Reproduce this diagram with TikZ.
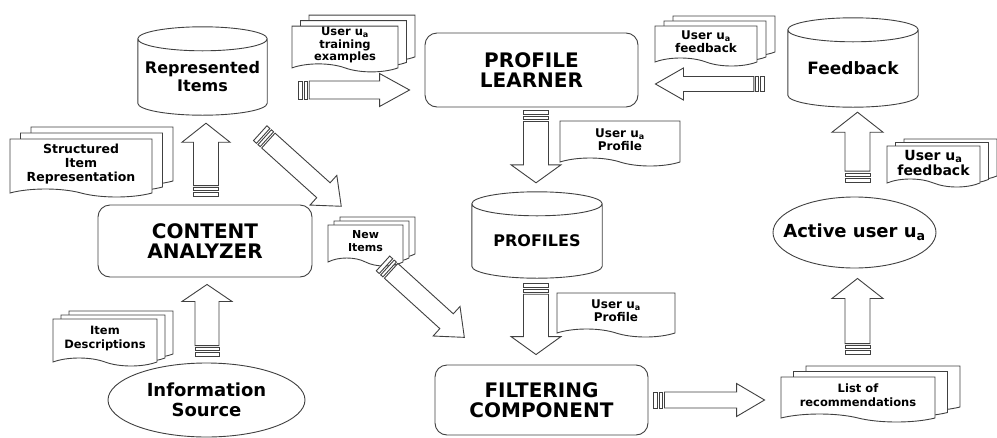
\documentclass[tikz,border=0pt]{standalone}
\usepackage{fontspec}
\setmainfont{DejaVu Sans}
\usetikzlibrary{positioning,calc,shapes.geometric,shapes.symbols,shadows}

% block arrow with striped tail: tail, head, half shaft, half head, head length
\newcommand{\bigarrow}[5]{%
  \path let \p1=(#1), \p2=(#2) in
    \pgfextra{%
      \pgfmathparse{atan2((\y2)-(\y1),(\x2)-(\x1))}\xdef\arrang{\pgfmathresult}%
      \pgfmathparse{veclen((\x2)-(\x1),(\y2)-(\y1))}\xdef\arrlen{\pgfmathresult}%
      \xdef\arrpos{\x1,\y1}};
  \begin{scope}[shift={(\arrpos)}, rotate=\arrang, x=1pt, y=1pt]
    \draw[bigarrow] (11,-#3) -- ({\arrlen-#5},-#3) -- ({\arrlen-#5},-#4) -- (\arrlen,0)
      -- ({\arrlen-#5},#4) -- ({\arrlen-#5},#3) -- (11,#3) -- cycle;
    \draw[bigarrow] (0,-#3) rectangle (4,#3);
    \draw[bigarrow] (6,-#3) rectangle (9,#3);
  \end{scope}
}

% cylinder outline round a text node
\newcommand{\cylinder}[1]{%
  \draw[outline] let \p1=(#1.north west), \p2=(#1.south east), \n1={((\x2)-(\x1))/2} in
    ({\x1+\n1},\y1) ellipse [x radius=\n1, y radius=12pt]
    (\x1,\y1) -- (\x1,{\y2+12pt}) arc [start angle=180, end angle=360, x radius=\n1, y radius=12pt]
    -- (\x2,\y1);
}

\tikzset{
  outline/.style={draw=black!75, line width=0.9pt},
  bigarrow/.style={outline, fill=white, line join=miter},
  box/.style={outline, rounded corners=12pt, align=center, inner sep=0pt,
    font=\bfseries\fontsize{20}{20}\selectfont},
  db/.style={align=center, inner sep=0pt, font=\bfseries\fontsize{16}{18}\selectfont},
  oval/.style={outline, ellipse, inner sep=0pt, align=center,
    font=\bfseries\fontsize{18}{20}\selectfont},
  doc/.style={outline, fill=white, tape, tape bend top=none, tape bend bottom=out and in,
    tape bend height=8pt, inner sep=1pt, align=center,
    font=\bfseries\fontsize{12}{13}\selectfont},
  docs/.style n args={4}{doc,
    copy shadow={shadow xshift=#3, shadow yshift=#4, draw=black!75, fill=white},
    copy shadow={shadow xshift=#1, shadow yshift=#2, draw=black!75, fill=white}},
}

\begin{document}
\begin{tikzpicture}[x=1pt, y=-1pt]
\useasboundingbox (0,0) rectangle (997,437);

% boxes, databases and ovals
\node[box, minimum width=214, minimum height=72] (CA) at (205,241) {CONTENT\\ANALYZER};
\node[box, minimum width=213, minimum height=74] (PL) at (531.5,70) {PROFILE\\LEARNER};
\node[box, minimum width=213, minimum height=70] (FC) at (541.5,400) {FILTERING\\COMPONENT};
\node[db, minimum width=129, minimum height=76] (RI) at (202.5,77) {Represented\\Items};
\node[db, minimum width=130, minimum height=74] (PR) at (537,241) {PROFILES};
\node[db, minimum width=130, minimum height=77, font=\bfseries\fontsize{17}{18}\selectfont] (FB) at (853,68.5) {Feedback};
\cylinder{RI}
\cylinder{PR}
\cylinder{FB}
\node[oval, minimum width=197, minimum height=74] (IS) at (206.5,400) {Information\\Source};
\node[oval, minimum width=163, minimum height=71] (AU) at (854.5,232.5) {\makebox[0pt]{Active user u\textsubscript{a}}};

% documents
\node[docs={8.5pt}{5.5pt}{17pt}{11pt}, minimum width=106, minimum height=44,
  font=\bfseries\fontsize{11.5}{12.5}\selectfont] (TR) at (345,45) {User u\textsubscript{a}\\training\\examples};
\node[docs={10.5pt}{6pt}{21pt}{12pt}, minimum width=142, minimum height=58,
  font=\bfseries\fontsize{12.5}{14}\selectfont] (ST) at (81,164) {Structured\\Item\\Representation};
\node[docs={6pt}{4pt}{12pt}{8pt}, minimum width=75, minimum height=41,
  font=\bfseries\fontsize{11}{13}\selectfont] (NI) at (365.5,241.5) {New\\Items};
\node[docs={8pt}{4pt}{16pt}{8pt}, minimum width=104, minimum height=47,
  font=\bfseries\fontsize{11.5}{14}\selectfont] (ID) at (105,338.5) {Item\\Descriptions};
\node[docs={9pt}{5pt}{18pt}{10pt}, minimum width=102, minimum height=40] (FT) at (706,42) {User u\textsubscript{a}\\feedback};
\node[docs={8.5pt}{3.5pt}{17pt}{7pt}, minimum width=93, minimum height=41,
  font=\bfseries\fontsize{14}{15}\selectfont] (FR) at (933.5,162.5) {User u\textsubscript{a}\\feedback};
\node[docs={12.5pt}{5.5pt}{25pt}{11pt}, minimum width=154, minimum height=45,
  font=\bfseries\fontsize{11.5}{14}\selectfont] (LR) at (858,395.5) {List of\\recommendations};
\node[doc, minimum width=120, minimum height=45] (UP1) at (620,139.5) {User u\textsubscript{a}\\Profile};
\node[doc, minimum width=118, minimum height=44] (UP2) at (616,311) {User u\textsubscript{a}\\Profile};

% block arrows
\bigarrow{$(CA.north)+(1,-8)$}{$(RI.south)+(3.5,8)$}{12.5}{24}{19}
\bigarrow{$(IS.north)+(0.5,-6)$}{$(CA.south)+(2,7)$}{12}{25}{17}
\bigarrow{$(PL.south)+(4.5,3)$}{$(PR.north)+(-1,-21)$}{12.5}{25}{18}
\bigarrow{$(PR.south)+(-1,5)$}{$(FC.north)+(-5.5,-10)$}{12.5}{25}{18}
\bigarrow{$(AU.north)+(3,-14.5)$}{$(FB.south)+(4.5,5)$}{12.5}{25.5}{20}
\bigarrow{$(LR.north)+(-0.5,-22)$}{$(AU.south)+(3,10)$}{12.5}{25.5}{20}
\bigarrow{$(RI.east)+(31,13)$}{$(PL.west)+(-15,20)$}{9}{16.5}{30}
\bigarrow{$(FB.west)+(-23,15.5)$}{$(PL.east)+(17,14)$}{7.5}{16}{28}
\bigarrow{$(FC.east)+(5,0)$}{$(LR.west)+(-16,4.5)$}{8}{16.5}{28}
\bigarrow{$(RI.south east)+(-7,18)$}{$(NI.north west)+(14,-18)$}{10}{20}{24}
\bigarrow{$(NI.south)+(17.5,5)$}{$(FC.north west)+(30,-27)$}{10}{20}{24}

\end{tikzpicture}
\end{document}
